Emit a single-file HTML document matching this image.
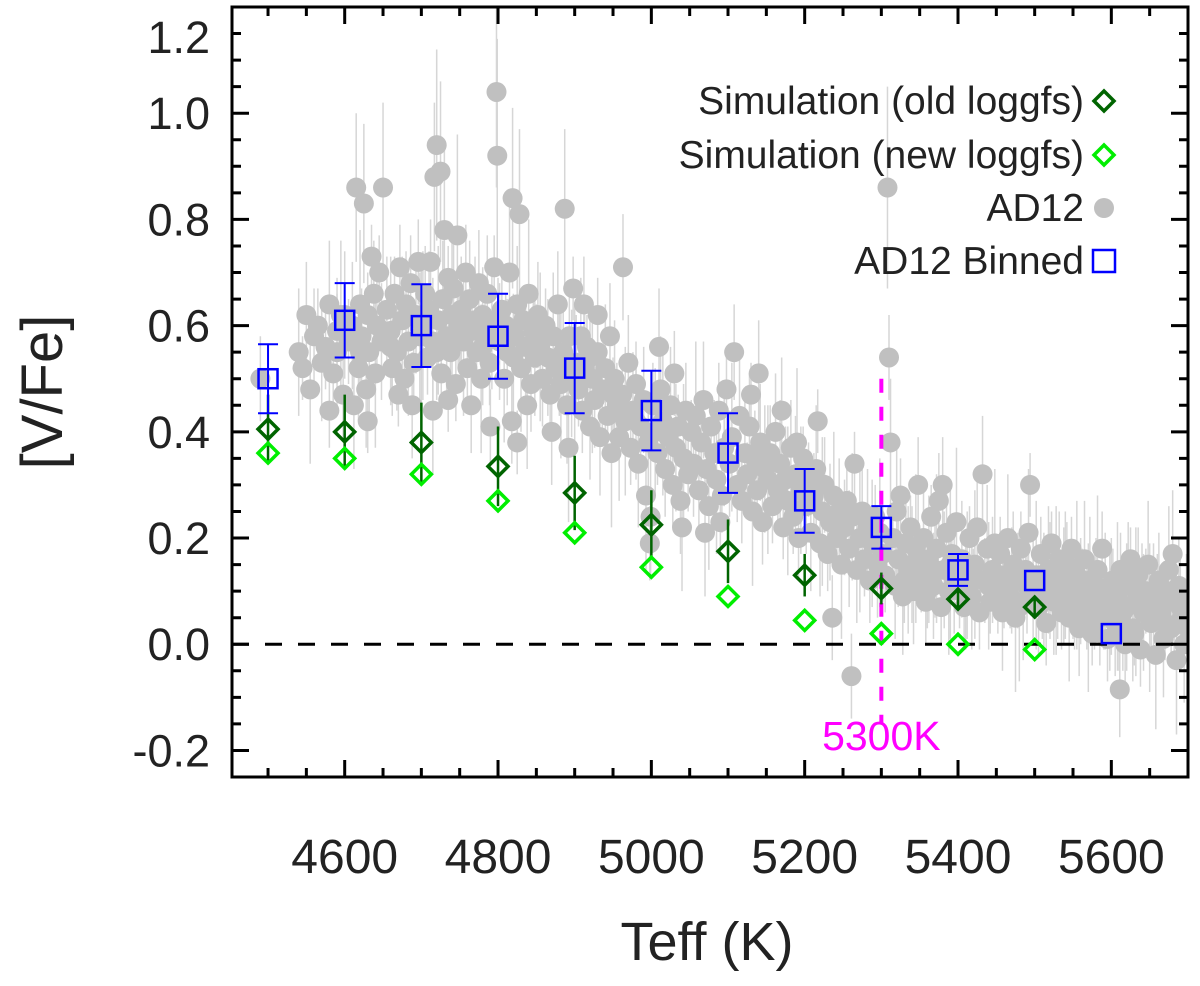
<!DOCTYPE html>
<html><head><meta charset="utf-8"><style>
html,body{margin:0;padding:0;background:#fff;}
svg{display:block;font-family:"Liberation Sans",Arial,sans-serif;}
</style></head><body>
<svg id="chart" width="1200" height="986" viewBox="0 0 1200 986" xmlns="http://www.w3.org/2000/svg">
<defs><clipPath id="plotclip"><rect x="232" y="7" width="956" height="770"/></clipPath></defs>
<g id="cloud" clip-path="url(#plotclip)"></g>
<g id="marks"></g>
<g id="axes"></g>
<text x="707" y="960" font-size="54" text-anchor="middle" fill="#222">Teff (K)</text>
<text transform="translate(62,392) rotate(-90)" font-size="58" text-anchor="middle" fill="#222">[V/Fe]</text>
<g id="legend"></g>
</svg>
<script>
const XMIN=4453, XMAX=5700, YMIN=-0.25, YMAX=1.2;
const PL=232, PR=1188, PT=7, PB=777;
function sx(t){return PL+(t-XMIN)/(XMAX-XMIN)*(PR-PL);}
function sy(v){return PB-(v-YMIN)/(YMAX-YMIN)*(PB-PT);}

const binTeff=[4500,4600,4700,4800,4900,5000,5100,5200,5300,5400,5500,5600];
const binVal=[0.50,0.61,0.60,0.58,0.52,0.44,0.36,0.27,0.22,0.14,0.12,0.02];
const binErr=[0.065,0.07,0.078,0.08,0.085,0.075,0.075,0.06,0.04,0.03,0.0,0.0];
const simTeff=[4500,4600,4700,4800,4900,5000,5100,5200,5300,5400,5500];
const oldVal=[0.405,0.40,0.38,0.335,0.285,0.225,0.175,0.13,0.105,0.085,0.07];
const oldErr=[0.065,0.07,0.075,0.075,0.07,0.065,0.06,0.04,0.03,0.02,0.02];
const newVal=[0.36,0.35,0.32,0.27,0.21,0.145,0.09,0.045,0.02,0.0,-0.01];
const yTicks=[-0.2,0.0,0.2,0.4,0.6,0.8,1.0,1.2];
const yTickLabels=["-0.2","0.0","0.2","0.4","0.6","0.8","1.0","1.2"];
const xTicks=[4600,4800,5000,5200,5400,5600];
const xTickLabels=["4600","4800","5000","5200","5400","5600"];
const errSizes=[0.08,0.12,0.06,0.10,0.14,0.09,0.07,0.11];
const cutTeff=5300;
const ad12=[
[4490,0.50],[4540,0.55],[4545,0.52],[4550,0.62],[4555,0.48],[4560,0.58],
[4565,0.60],[4570,0.53],[4575,0.56],[4580,0.64],[4585,0.51],[4590,0.59],[4595,0.62],[4598,0.47],[4580,0.44],[4590,0.55],
[4605,0.57],[4610,0.60],[4615,0.86],[4618,0.52],[4620,0.64],[4622,0.58],[4625,0.83],[4628,0.48],[4630,0.62],[4632,0.55],[4635,0.73],[4638,0.66],[4640,0.51],[4642,0.60],[4645,0.70],[4648,0.57],[4650,0.86],[4612,0.45],[4630,0.42],
[4655,0.63],[4660,0.59],[4662,0.52],[4665,0.66],[4668,0.55],[4672,0.71],[4675,0.61],[4678,0.50],[4680,0.64],[4683,0.57],[4686,0.68],[4690,0.53],[4693,0.62],[4696,0.72],[4698,0.58],[4670,0.47],[4688,0.45],
[4702,0.60],[4705,0.66],[4708,0.54],[4710,0.63],[4712,0.72],[4715,0.57],[4717,0.88],[4720,0.94],[4722,0.61],[4725,0.89],[4726,0.51],[4728,0.65],[4730,0.78],[4733,0.58],[4735,0.69],[4738,0.55],[4740,0.62],[4742,0.67],[4745,0.49],[4747,0.77],[4748,0.60],[4715,0.44],[4735,0.46],
[4752,0.63],[4755,0.57],[4758,0.70],[4760,0.52],[4763,0.65],[4766,0.59],[4770,0.61],[4772,0.55],[4775,0.68],[4778,0.50],[4780,0.62],[4783,0.58],[4786,0.66],[4789,0.53],[4792,0.60],[4795,0.71],[4798,1.04],[4799,0.92],[4765,0.45],[4790,0.41],
[4802,0.57],[4805,0.63],[4808,0.50],[4810,0.60],[4812,0.55],[4815,0.70],[4819,0.84],[4822,0.58],[4825,0.64],[4828,0.81],[4830,0.52],[4833,0.61],[4836,0.56],[4840,0.66],[4843,0.49],[4846,0.59],[4848,0.54],[4818,0.42],[4838,0.45],[4825,0.38],
[4852,0.62],[4855,0.56],[4858,0.50],[4862,0.60],[4865,0.54],[4868,0.47],[4872,0.58],[4875,0.52],[4878,0.64],[4882,0.49],[4885,0.55],[4887,0.82],[4890,0.45],[4893,0.58],[4896,0.51],[4898,0.67],[4870,0.40],[4892,0.37],
[4902,0.53],[4905,0.48],[4908,0.58],[4910,0.44],[4913,0.52],[4916,0.56],[4920,0.41],[4923,0.50],[4926,0.46],[4930,0.55],[4933,0.39],[4936,0.48],[4940,0.52],[4943,0.43],[4946,0.58],[4948,0.36],[4912,0.64],[4930,0.62],
[4952,0.50],[4955,0.45],[4958,0.39],[4962,0.47],[4963,0.71],[4966,0.42],[4970,0.53],[4973,0.37],[4976,0.44],[4980,0.49],[4983,0.34],[4986,0.41],[4990,0.46],[4993,0.28],[4996,0.38],[4998,0.19],[4999,0.24],
[5002,0.45],[5005,0.40],[5008,0.36],[5012,0.48],[5015,0.42],[5018,0.33],[5022,0.39],[5025,0.45],[5028,0.30],[5032,0.37],[5035,0.41],[5038,0.27],[5042,0.35],[5045,0.44],[5048,0.32],[5010,0.56],[5030,0.51],[5040,0.22],
[5052,0.40],[5055,0.34],[5058,0.43],[5062,0.29],[5065,0.38],[5068,0.46],[5072,0.33],[5075,0.26],[5078,0.41],[5082,0.36],[5085,0.31],[5088,0.44],[5092,0.28],[5095,0.37],[5098,0.48],[5070,0.21],[5090,0.23],
[5102,0.34],[5105,0.39],[5108,0.55],[5112,0.30],[5115,0.43],[5118,0.27],[5122,0.36],[5125,0.32],[5128,0.41],[5132,0.25],[5135,0.35],[5138,0.29],[5142,0.38],[5145,0.23],[5148,0.33],[5130,0.47],[5140,0.51],
[5152,0.31],[5155,0.36],[5158,0.26],[5162,0.40],[5165,0.29],[5168,0.34],[5172,0.22],[5175,0.31],[5178,0.27],[5182,0.37],[5185,0.24],[5188,0.32],[5192,0.20],[5195,0.29],[5198,0.35],[5170,0.44],[5190,0.38],
[5202,0.26],[5205,0.31],[5208,0.21],[5212,0.28],[5215,0.33],[5217,0.42],[5220,0.19],[5223,0.25],[5226,0.30],[5230,0.17],[5233,0.23],[5236,0.05],[5238,0.28],[5242,0.20],[5245,0.25],[5248,0.15],
[5252,0.22],[5255,0.27],[5258,0.18],[5261,-0.06],[5262,0.24],[5265,0.34],[5268,0.14],[5272,0.20],[5275,0.25],[5278,0.16],[5282,0.22],[5285,0.12],[5288,0.19],[5292,0.24],[5295,0.15],[5298,0.21],
[5302,0.17],[5305,0.13],[5308,0.86],[5310,0.54],[5312,0.38],[5315,0.20],[5318,0.11],[5320,0.25],[5322,0.16],[5325,0.28],[5328,0.09],[5332,0.19],[5335,0.14],[5338,0.22],[5342,0.10],[5345,0.18],[5348,0.30],
[5352,0.13],[5355,0.20],[5358,0.08],[5362,0.16],[5365,0.24],[5368,0.11],[5372,0.18],[5375,0.27],[5378,0.07],[5382,0.14],[5385,0.21],[5388,0.10],[5392,0.17],[5395,0.12],[5398,0.23],[5380,0.30],
[5402,0.10],[5405,0.16],[5408,0.07],[5412,0.13],[5415,0.20],[5418,0.09],[5422,0.15],[5425,0.22],[5428,0.06],[5432,0.32],[5435,0.12],[5438,0.18],[5442,0.08],[5445,0.14],[5448,0.19],
[5452,0.11],[5455,0.17],[5458,0.06],[5462,0.13],[5465,0.20],[5468,0.09],[5472,0.15],[5475,0.05],[5478,0.12],[5482,0.18],[5485,0.08],[5488,0.14],[5492,0.21],[5494,0.30],[5498,0.10],
[5502,0.13],[5505,0.07],[5508,0.17],[5512,0.10],[5515,0.04],[5518,0.14],[5522,0.19],[5525,0.08],[5528,0.12],[5532,0.16],[5535,0.06],[5538,0.11],[5542,0.15],[5545,0.05],[5548,0.18],
[5552,0.09],[5555,0.13],[5558,0.03],[5562,0.11],[5565,0.16],[5568,0.07],[5572,0.12],[5575,0.02],[5578,0.09],[5582,0.14],[5585,0.05],[5588,0.18],[5592,0.10],[5595,0.01],[5598,0.07],
[5602,0.12],[5605,0.04],[5608,0.09],[5611,-0.085],[5612,0.14],[5615,0.06],[5618,0.00],[5622,0.11],[5625,0.16],[5628,0.03],[5632,0.08],[5635,0.13],[5638,-0.01],[5642,0.06],[5645,0.10],[5648,0.15],
[5652,0.04],[5655,0.09],[5658,-0.02],[5662,0.12],[5665,0.06],[5668,0.01],[5672,0.10],[5675,0.14],[5678,0.03],[5682,0.08],[5685,-0.03],[5688,0.11],[5692,0.05],[5695,0.00],[5698,0.09],[5680,0.17],
[5460,0.09],[5470,0.12],[5480,0.07],[5490,0.11],[5510,0.08],[5520,0.12],[5530,0.09],[5540,0.13],[5550,0.07],[5560,0.10],[5570,0.05],[5580,0.11],[5590,0.06],[5600,0.09],[5610,0.03],[5620,0.07],
[5630,0.02],[5640,0.09],[5650,0.05],[5660,0.08],[5670,0.04],[5690,0.07],[5700,0.03],[5440,0.11],[5420,0.12],[5410,0.09],[5390,0.15],[5370,0.14],[5360,0.10],[5340,0.15],[5330,0.12],
[4600,0.62],[4620,0.55],[4660,0.56],[4700,0.58],[4720,0.55],[4750,0.59],[4780,0.56],[4800,0.61],[4820,0.54],[4850,0.58],[4880,0.53],[4900,0.50],[4920,0.54],[4950,0.47],[4980,0.42]
];

const NS="http://www.w3.org/2000/svg";
function mk(tag,attrs,parent){const e=document.createElementNS(NS,tag);for(const k in attrs)e.setAttribute(k,attrs[k]);parent.appendChild(e);return e;}
const cloud=document.getElementById('cloud'), marks=document.getElementById('marks'), axes=document.getElementById('axes'), legend=document.getElementById('legend');

ad12.forEach((p,i)=>{
  let er=errSizes[i%errSizes.length]; if(p[1]>0.75) er+=0.08;
  const l=mk('line',{x1:sx(p[0]),x2:sx(p[0]),y1:sy(p[1]-er),y2:sy(p[1]+er),stroke:'#d6d6d6','stroke-width':1.5},cloud);
  
  
});
ad12.forEach(p=>{
  const c=mk('circle',{cx:sx(p[0]),cy:sy(p[1]),r:10,fill:'#c0c0c0'},cloud);
  
  
});

const z=mk('line',{x1:PL,x2:PR,y1:sy(0),y2:sy(0),stroke:'#000','stroke-width':3,'stroke-dasharray':'17,16'},marks);


const ml=mk('line',{x1:sx(cutTeff),x2:sx(cutTeff),y1:sy(0.5),y2:sy(-0.15),stroke:'#ff00ff','stroke-width':4,'stroke-dasharray':'14,14'},marks);


const mt=mk('text',{x:sx(cutTeff),y:750,'font-size':41,'text-anchor':'middle',fill:'#ff00ff'},marks);
mt.textContent='5300K';



function diamond(cx,cy,col,parent){
  return mk('polygon',{points:`${cx},${cy-10} ${cx+10},${cy} ${cx},${cy+10} ${cx-10},${cy}`,fill:'none',stroke:col,'stroke-width':3.5},parent);
}
simTeff.forEach((t,i)=>{
  const x=sx(t);
  const e=mk('line',{x1:x,x2:x,y1:sy(oldVal[i]-oldErr[i]),y2:sy(oldVal[i]+oldErr[i]),stroke:'#006400','stroke-width':2.5},marks);
  
  
  const d1=diamond(x,sy(oldVal[i]),'#006400',marks);
  
  
  const d2=diamond(x,sy(newVal[i]),'#00ee00',marks);
  
  
});
binTeff.forEach((t,i)=>{
  const x=sx(t), y=sy(binVal[i]);
  if(binErr[i]>0){
    const e=mk('path',{d:`M${x},${sy(binVal[i]-binErr[i])}V${sy(binVal[i]+binErr[i])}M${x-10},${sy(binVal[i]-binErr[i])}H${x+10}M${x-10},${sy(binVal[i]+binErr[i])}H${x+10}`,stroke:'#0000ff','stroke-width':2,fill:'none'},marks);
    
    
  }
  const s=mk('rect',{x:x-9.5,y:y-9.5,width:19,height:19,fill:'none',stroke:'#0000ff','stroke-width':2.5},marks);
  
  
});

const fr=mk('rect',{x:PL,y:PT,width:PR-PL,height:PB-PT,fill:'none',stroke:'#000','stroke-width':3},axes);


for(let k=0;k<=29;k++){
  const v=YMIN+k*0.05; if(v>YMAX+1e-6) break;
  const major=Math.abs(Math.round(v*100)%20)===0;
  const L=major?17:9, y=sy(v);
  const t=mk('path',{d:`M${PL},${y}h${L}M${PR},${y}h${-L}`,stroke:'#000','stroke-width':3},axes);
  
  
}
yTicks.forEach((v,i)=>{
  let y=sy(v)+16; if(v>1.15) y=53;
  const t=mk('text',{x:210,y:y,'font-size':45,'text-anchor':'end',fill:'#222'},axes);
  t.textContent=yTickLabels[i];
  
  
});
for(let t0=4500;t0<=5700;t0+=50){
  const major=t0%200===0, L=major?17:9, x=sx(t0);
  const t=mk('path',{d:`M${x},${PB}v${-L}M${x},${PT}v${L}`,stroke:'#000','stroke-width':3},axes);
  
  
}
xTicks.forEach((v,i)=>{
  const t=mk('text',{x:sx(v),y:873,'font-size':48,'text-anchor':'middle',fill:'#222'},axes);
  t.textContent=xTickLabels[i];
  
  
});

const legLabels=["Simulation (old loggfs)","Simulation (new loggfs)","AD12","AD12 Binned"];
const legY=[101,155,208,261];
legLabels.forEach((s,i)=>{
  const t=mk('text',{x:1084,y:legY[i]+13,'font-size':39,'text-anchor':'end',fill:'#222'},legend);
  t.textContent=s;
  
  
});
let g;
g=diamond(1104,legY[0],'#006400',legend);


g=diamond(1104,legY[1],'#00ee00',legend);


g=mk('circle',{cx:1104,cy:legY[2],r:10,fill:'#c0c0c0'},legend);


g=mk('rect',{x:1093,y:legY[3]-11,width:22,height:22,fill:'none',stroke:'#0000ff','stroke-width':2.5},legend);


</script>
</body></html>
